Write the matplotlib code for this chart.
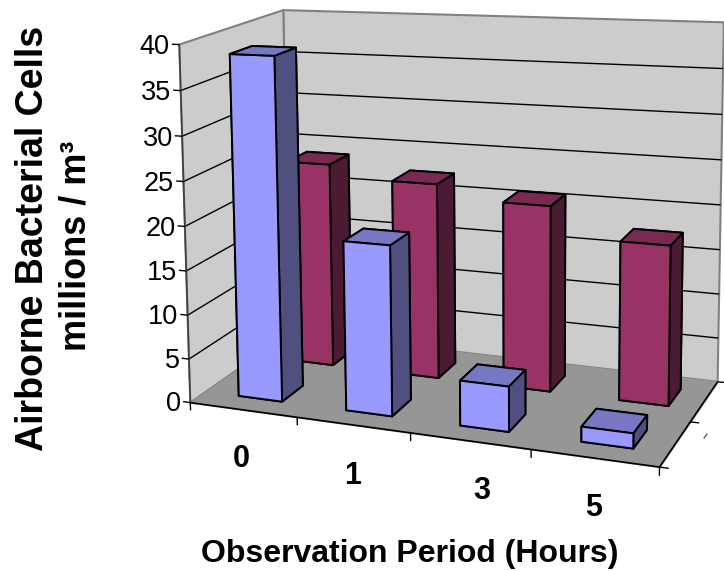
import numpy as np
import matplotlib
matplotlib.use('Agg')
import matplotlib.pyplot as plt
from matplotlib.lines import Line2D
from mpl_toolkits.mplot3d.art3d import Poly3DCollection, Line3DCollection

plt.rcParams['font.family'] = ['Liberation Sans', 'DejaVu Sans']

W, H = 724, 571

# data
periods = ['0', '1', '3', '5']
blue_vals = [38.5, 18.8, 4.9, 1.6]
red_vals = [23.8, 22.4, 20.9, 17.6]
z_ticks = [0, 5, 10, 15, 20, 25, 30, 35, 40]

# chart box in data units: 4 categories, 2 rows deep, 0-40 tall
XMAX, YMAX, ZMAX = 4, 2, 40

# where the box corners land in the picture (pixels, y down)
corners_3d = [(0, 0, 0), (XMAX, 0, 0), (XMAX, YMAX, 0), (0, YMAX, 0),
              (0, 0, ZMAX), (0, YMAX, ZMAX), (XMAX, YMAX, ZMAX)]
corners_px = [(193, 403), (660, 466), (718, 383), (287, 332),
              (176, 45), (287, 10), (723, 22)]


def fit_camera(pts3d, pts2d):
    rows = []
    for (x, y, z), (u, v) in zip(pts3d, pts2d):
        rows.append([x, y, z, 1, 0, 0, 0, 0, -u*x, -u*y, -u*z, -u])
        rows.append([0, 0, 0, 0, x, y, z, 1, -v*x, -v*y, -v*z, -v])
    cam = np.linalg.svd(np.array(rows, dtype=float))[2][-1].reshape(3, 4)
    return cam / cam[2, 3]


camera = fit_camera(corners_3d, corners_px)

fig = plt.figure(figsize=(W/100, H/100), dpi=100)
# 3d axes are always square, so make the square cover the whole figure
ax = fig.add_axes([0, (1 - W/H)/2, 1, W/H], projection='3d', computed_zorder=False)
ax.set_axis_off()
ax.set_xlim(0, XMAX)
ax.set_ylim(0, YMAX)
ax.set_zlim(0, ZMAX)


def excel_proj():
    # picture pixels -> figure pixels -> the 2d coordinates of the axes
    flip = np.array([[1, 0, 0], [0, -1, H], [0, 0, 1]], dtype=float)
    a = ax.transData.inverted().get_matrix() @ flip @ camera
    depth = [-0.3, 1, -0.02, 0]
    return np.array([a[0], a[1], depth, a[2]])


ax.get_proj = excel_proj

wall = '#CCCCCC'
floor = '#969696'
edge = '#808080'

# walls and floor
left_wall = [(0, 0, 0), (0, YMAX, 0), (0, YMAX, ZMAX), (0, 0, ZMAX)]
back_wall = [(0, YMAX, 0), (XMAX, YMAX, 0), (XMAX, YMAX, ZMAX), (0, YMAX, ZMAX)]
ground = [(0, 0, 0), (XMAX, 0, 0), (XMAX, YMAX, 0), (0, YMAX, 0)]
ax.add_collection3d(Poly3DCollection([left_wall, back_wall], facecolors=wall,
                                     edgecolors=edge, linewidths=1.5, zorder=1))
ax.add_collection3d(Poly3DCollection([ground], facecolors=floor,
                                     edgecolors=floor, linewidths=1, zorder=1.1))


def lines3(segs, color='black', lw=1.0):
    ax.add_collection3d(Line3DCollection(segs, colors=color, linewidths=lw, zorder=2))


# gridlines
grid = []
for v in z_ticks[1:-1]:
    grid.append([(0, 0, v), (0, YMAX, v)])
    grid.append([(0, YMAX, v), (XMAX, YMAX, v)])
lines3(grid)

# axis lines and ticks
lines3([[(0, 0, 0), (0, 0, ZMAX)]], color='#404040', lw=1.2)
lines3([[(0, 0, 0), (XMAX, 0, 0)], [(XMAX, 0, 0), (XMAX, YMAX, 0)]], lw=1.2)
ticks = []
for v in z_ticks:
    ticks.append([(-0.07, 0, v), (0, 0, v)])
    ax.text(-0.09, 0, v - 0.35, str(v), ha='right', va='center', fontsize=19.5, zorder=6)
for i in range(XMAX + 1):
    ticks.append([(i, 0, 0), (i, 0, -0.9)])
for j in range(YMAX + 1):
    ticks.append([(XMAX, j, 0), (XMAX + 0.07, j, 0)])
lines3(ticks)

# bars: -z, +z, -y, +y, -x, +x face colours
blue_faces = ['#4F4F80', '#7777C4', '#9999FF', '#4F4F80', '#4F4F80', '#4F4F80']
red_faces = ['#4D1A33', '#7A2952', '#993366', '#4D1A33', '#4D1A33', '#4D1A33']
bar_w = 0.41
bar_d = 0.42
for i, v in enumerate(red_vals):
    ax.bar3d(i + 0.55 - bar_w/2, 1.5 - bar_d/2, 0, bar_w, bar_d, v, color=red_faces,
             shade=False, edgecolor='black', linewidth=1.4, zorder=3)
for i, v in enumerate(blue_vals):
    ax.bar3d(i + 0.52 - bar_w/2, 0.5 - bar_d/2, 0, bar_w, bar_d, v, color=blue_faces,
             shade=False, edgecolor='black', linewidth=1.4, zorder=4)


def text_px(x, y, s, **kw):
    fig.text(x/W, 1 - y/H, s, ha='center', va='center', **kw)


# labels
cat_px = [(241, 459), (353, 476), (482, 491), (594, 508)]
for (x, y), s in zip(cat_px, periods):
    text_px(x, y, s, fontsize=22, fontweight='bold')
text_px(410, 554, 'Observation Period (Hours)', fontsize=23, fontweight='bold')
text_px(33, 238, 'Airborne Bacterial Cells', fontsize=27, fontweight='bold', rotation=90)
text_px(76, 246, 'millions / m³', fontsize=26, fontweight='bold', rotation=90)

# clipped bit of a series label at the right edge
fig.add_artist(Line2D([704/W, 707/W], [1 - 438/H, 1 - 434/H], color='#404040', lw=0.8))

fig.savefig('out.png', dpi=100)
